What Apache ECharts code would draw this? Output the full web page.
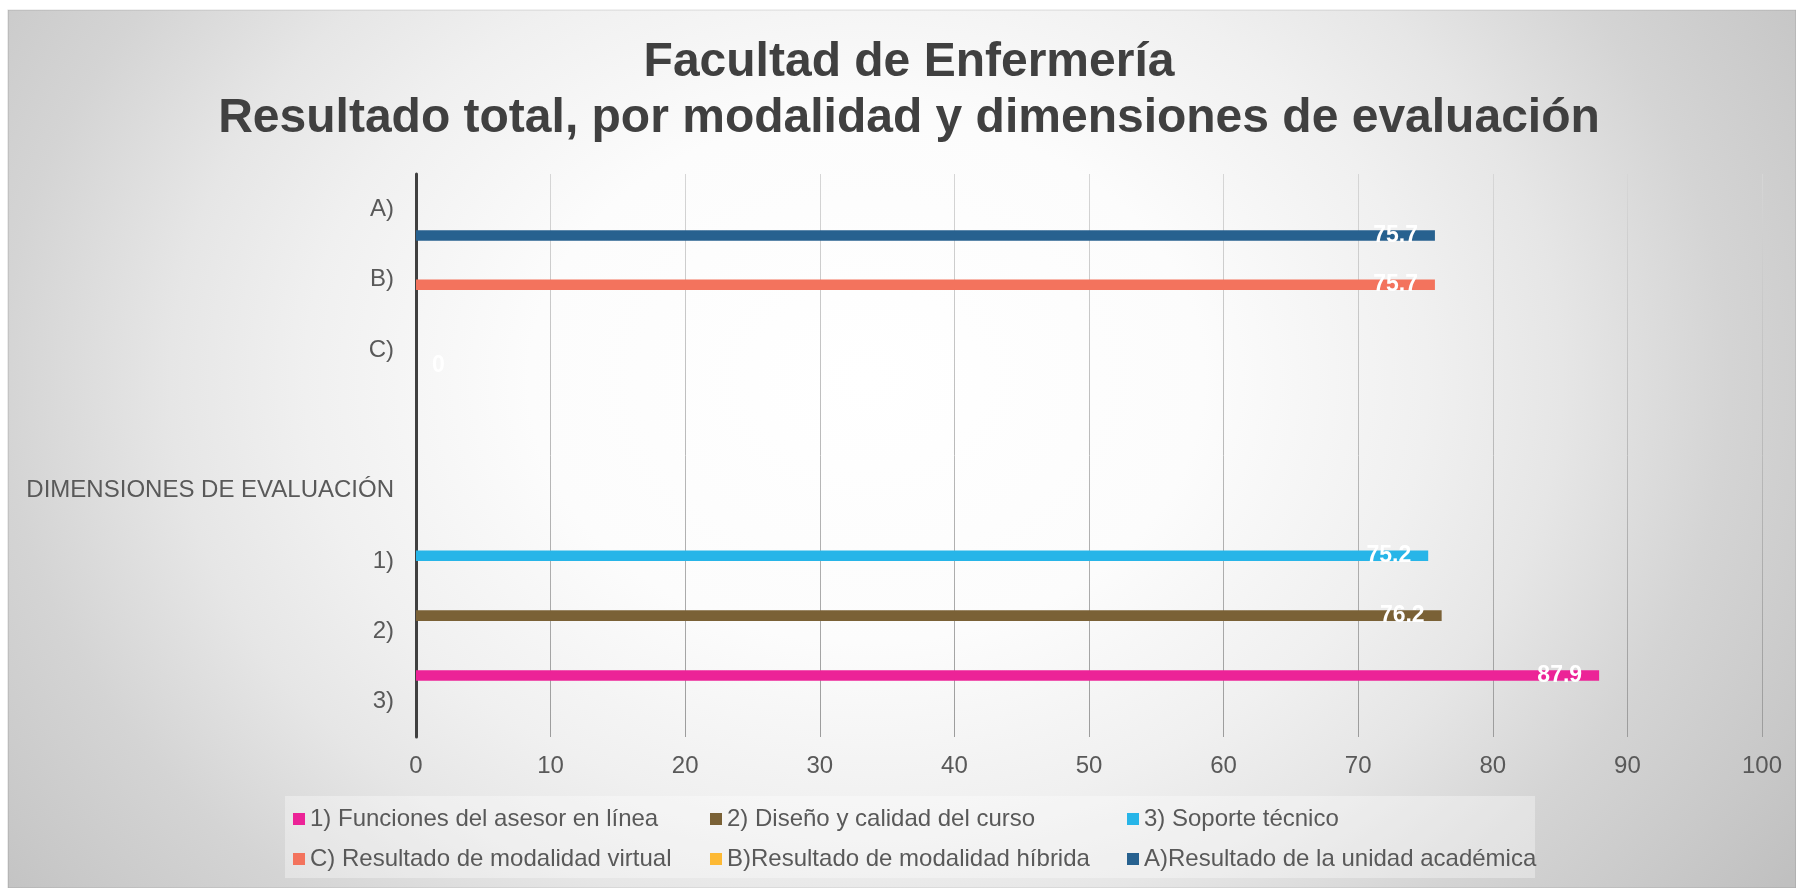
<!DOCTYPE html>
<html>
<head>
<meta charset="utf-8">
<script src="https://cdn.jsdelivr.net/npm/echarts@6/dist/echarts.min.js"></script>
<style>
html,body{margin:0;padding:0;background:#ffffff;}
#chart{width:1796px;height:888px;}
</style>
</head>
<body>
<div id="chart"></div>
<script>
// ---- data ----
const titleLines = ['Facultad de Enfermería', 'Resultado total, por modalidad y dimensiones de evaluación'];
const categories = ['A)', 'B)', 'C)', '', 'DIMENSIONES DE EVALUACIÓN', '1)', '2)', '3)'];
const seriesNames = [
  '1) Funciones del asesor en línea',
  '2) Diseño y calidad del curso',
  '3) Soporte técnico',
  'C) Resultado de modalidad virtual',
  'B)Resultado de modalidad híbrida',
  'A)Resultado de la unidad académica'
];
const funcionesAsesor   = [null, null, null, null, null, null, null, 87.9];
const disenoCalidad     = [null, null, null, null, null, null, 76.2, null];
const soporteTecnico    = [null, null, null, null, null, 75.2, null, null];
const modalidadVirtual  = [null, 75.7, null, null, null, null, null, null];
const modalidadHibrida  = [null, null, 0, null, null, null, null, null];
const unidadAcademica   = [75.7, null, null, null, null, null, null, null];
const xMin = 0, xMax = 100, xStep = 10;

// ---- styles ----
const seriesData = [funcionesAsesor, disenoCalidad, soporteTecnico, modalidadVirtual, modalidadHibrida, unidadAcademica];
const colors = ['#EC2397', '#7A6136', '#27B5E8', '#F3735D', '#FDB934', '#27618F'];
const FONT = '"Liberation Sans", Arial, sans-serif';
const textGray = '#595959';

const chart = echarts.init(document.getElementById('chart'), null, {renderer: 'canvas'});

const series = seriesNames.map((name, i) => ({
  name: name,
  type: 'bar',
  data: seriesData[i],
  barGap: '0%',
  barCategoryGap: '10%',
  itemStyle: {color: colors[i]},
  label: {
    show: true,
    position: i === 4 ? 'right' : 'insideRight',
    distance: i === 4 ? 16 : 17,
    color: '#ffffff',
    fontWeight: 'bold',
    fontSize: 23,
    fontFamily: FONT
  },
  emphasis: {disabled: true}
}));

// legend grid placement (3 columns x 2 rows)
const legendCols = [293, 710, 1127];
const legendRows = [799, 839];
const legends = seriesNames.map((name, i) => ({
  data: [name],
  left: legendCols[i % 3],
  top: legendRows[Math.floor(i / 3)],
  padding: 0,
  icon: 'rect',
  itemWidth: 12,
  itemHeight: 12,
  itemGap: 0,
  selectedMode: false,
  textStyle: {color: textGray, fontSize: 24, fontFamily: FONT, lineHeight: 40}
}));

const option = {
  backgroundColor: '#ffffff',
  animation: false,
  textStyle: {fontFamily: FONT},
  graphic: [
    {
      type: 'rect',
      z: -100,
      x: 8, y: 10,
      scaleX: 1788 / 1400,
      shape: {x: 0, y: 0, width: 1400, height: 878},
      style: {
        fill: new echarts.graphic.RadialGradient(0.48, 0.42, 1, [
          {offset: 0, color: '#ffffff'},
          {offset: 0.3, color: '#fcfcfc'},
          {offset: 0.5, color: '#f0f0f0'},
          {offset: 0.62, color: '#e6e6e6'},
          {offset: 0.77, color: '#d4d4d4'},
          {offset: 0.9, color: '#c9c9c9'},
          {offset: 1, color: '#c0c0c0'}
        ]),
        stroke: 'rgba(0,0,0,0.12)',
        lineWidth: 1
      },
      silent: true
    },
    {
      type: 'rect',
      z: -50,
      shape: {x: 285, y: 796, width: 1250, height: 82},
      style: {fill: 'rgba(255,255,255,0.35)'},
      silent: true
    }
  ],
  title: {
    text: titleLines.join('\n'),
    left: 909,
    top: 35,
    padding: 0,
    textAlign: 'center',
    textVerticalAlign: 'top',
    textStyle: {
      fontFamily: FONT,
      fontSize: 48,
      fontWeight: 'bold',
      color: '#404040',
      lineHeight: 56
    }
  },
  legend: legends,
  grid: {left: 416, right: 34, top: 174, height: 563, containLabel: false},
  xAxis: {
    type: 'value',
    min: xMin,
    max: xMax,
    interval: xStep,
    axisLine: {show: false},
    axisTick: {show: false},
    axisLabel: {color: textGray, fontSize: 24, fontFamily: FONT, margin: 17},
    splitLine: {
      show: true,
      lineStyle: {
        width: 1,
        color: new echarts.graphic.LinearGradient(0, 174, 0, 737, [
          {offset: 0, color: '#d6d6d6'},
          {offset: 1, color: '#9c9c9c'}
        ], true)
      }
    }
  },
  yAxis: {
    type: 'category',
    data: categories,
    inverse: true,
    axisLine: {show: true, lineStyle: {color: '#404040', width: 3}},
    axisTick: {show: false},
    axisLabel: {color: textGray, fontSize: 24, fontFamily: FONT, margin: 22, interval: 0},
    splitLine: {show: false}
  },
  series: series
};

chart.setOption(option);
</script>
</body>
</html>
